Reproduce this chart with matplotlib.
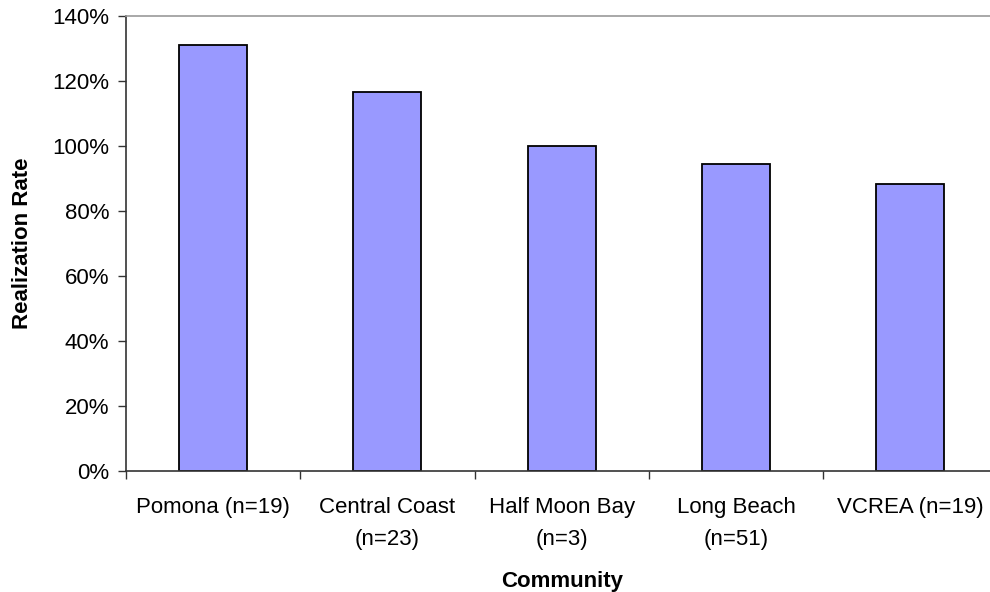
import matplotlib
matplotlib.use("Agg")
import matplotlib.pyplot as plt
import numpy as np

# Realization rate by community
communities = ["Pomona (n=19)", "Central Coast\n(n=23)", "Half Moon Bay\n(n=3)",
               "Long Beach\n(n=51)", "VCREA (n=19)"]
realization_rate = [131.0, 116.5, 100.0, 94.4, 88.3]
y_ticks = [0, 20, 40, 60, 80, 100, 120, 140]

plt.rcParams["font.family"] = ["Liberation Sans", "DejaVu Sans"]

fig = plt.figure(figsize=(9.9, 5.92), dpi=100)
ax = fig.add_axes([126 / 990, 121 / 592, 871.5 / 990, 455 / 592])

x = np.arange(len(communities))
ax.bar(x, realization_rate, width=0.39, color="#9999ff", edgecolor="black", linewidth=1.3)

ax.set_xlim(-0.5, len(communities) - 0.5)
ax.set_ylim(0, 140)
ax.set_yticks(y_ticks)
ax.set_yticklabels([f"{v}%" for v in y_ticks], fontsize=16)

ax.set_xticks(x)
ax.set_xticklabels(communities, fontsize=16, linespacing=1.68, va="top")
ax.set_xticks(np.arange(len(communities) + 1) - 0.5, minor=True)
ax.tick_params(axis="x", which="major", length=0, pad=19)
ax.tick_params(axis="x", which="minor", length=6, width=1, color="#333333")
ax.tick_params(axis="y", length=6, width=1, color="#333333", pad=6)

for side in ["left", "bottom"]:
    ax.spines[side].set_color("#333333")
    ax.spines[side].set_linewidth(1.2)
ax.spines["right"].set_visible(False)
ax.spines["top"].set_color("#999999")
ax.spines["top"].set_linewidth(1.2)

ax.set_ylabel("Realization Rate", fontsize=16, fontweight="bold", labelpad=14)
ax.set_xlabel("Community", fontsize=16, fontweight="bold", labelpad=15)

fig.savefig("out.png", dpi=100)
